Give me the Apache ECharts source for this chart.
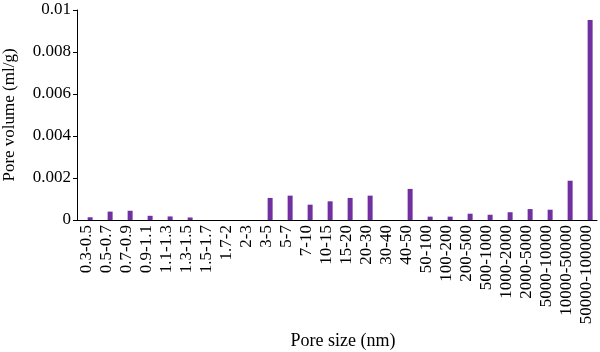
<!DOCTYPE html>
<html lang="en">
<head>
  <meta charset="UTF-8">
  <title>Pore volume</title>
  <script src="https://cdn.jsdelivr.net/npm/echarts@6/dist/echarts.min.js"></script>
  <style>
    body { margin: 0; }
    #main { width: 600px; height: 352px; }
  </style>
</head>
<body>
  <div id="main"></div>
  <script>
    // pore size classes (nm)
    var sizes = ['0.3-0.5', '0.5-0.7', '0.7-0.9', '0.9-1.1', '1.1-1.3', '1.3-1.5', '1.5-1.7',
      '1.7-2', '2-3', '3-5', '5-7', '7-10', '10-15', '15-20', '20-30', '30-40', '40-50',
      '50-100', '100-200', '200-500', '500-1000', '1000-2000', '2000-5000', '5000-10000',
      '10000-50000', '50000-100000'];
    // pore volume (ml/g)
    var volume = [0.00013, 0.0004, 0.00044, 0.0002, 0.00017, 0.00012, 0, 0, 0,
      0.00105, 0.00116, 0.00073, 0.00089, 0.00105, 0.00116, 0, 0.00148,
      0.00016, 0.00016, 0.0003, 0.00025, 0.00037, 0.00052, 0.00049,
      0.00187, 0.00952];
    var yTicks = [0, 0.002, 0.004, 0.006, 0.008, 0.01];

    var font = 'Liberation Serif';
    var chart = echarts.init(document.getElementById('main'));

    chart.setOption({
      animation: false,
      grid: { left: 77, right: 3, top: 10, bottom: 132, outerBoundsMode: 'none' },
      xAxis: {
        type: 'category',
        data: sizes,
        name: 'Pore size (nm)',
        nameLocation: 'middle',
        nameGap: 111,
        nameTextStyle: { fontFamily: font, fontSize: 18, color: '#000', padding: [0, 0, 0, 12] },
        axisLine: { lineStyle: { color: '#000', width: 1 } },
        axisTick: { alignWithLabel: false, length: 4, lineStyle: { color: '#000' } },
        axisLabel: { rotate: 90, interval: 0, margin: 5, fontFamily: font, fontSize: 17, color: '#000' }
      },
      yAxis: {
        type: 'value',
        min: 0,
        max: yTicks[yTicks.length - 1],
        interval: yTicks[1] - yTicks[0],
        name: 'Pore volume (ml/g)',
        nameLocation: 'middle',
        nameGap: 59,
        nameTextStyle: { fontFamily: font, fontSize: 17, color: '#000' },
        axisLine: { show: true, lineStyle: { color: '#000', width: 1 } },
        axisTick: { show: true, length: 4, lineStyle: { color: '#000' } },
        splitLine: { show: false },
        axisLabel: {
          margin: 6, fontFamily: font, fontSize: 17, color: '#000',
          formatter: function (v) { return String(+v.toFixed(3)); }
        }
      },
      series: [
        // empty first series so the bar sits right of centre, like the original
        { type: 'bar', data: [], barWidth: 5, barGap: '25%' },
        { type: 'bar', data: volume, barWidth: 5, barGap: '25%', itemStyle: { color: '#7030a0' } }
      ]
    });
  </script>
</body>
</html>
